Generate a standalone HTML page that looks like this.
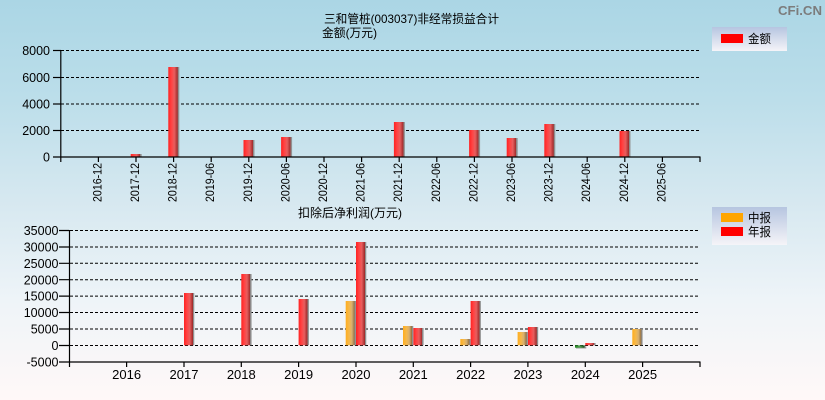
<!DOCTYPE html>
<html><head><meta charset="utf-8"><style>
html,body{margin:0;padding:0;}
body{width:825px;height:400px;overflow:hidden;}
svg{display:block;}
text{font-family:"Liberation Sans","Noto Sans CJK SC",sans-serif;fill:#000;}
</style></head><body>
<svg width="825" height="400" viewBox="0 0 825 400" xmlns="http://www.w3.org/2000/svg">
<defs>
<linearGradient id="bg" x1="0" y1="0" x2="0" y2="1">
<stop offset="0" stop-color="#abd6e5"/>
<stop offset="0.25" stop-color="#bcdeea"/>
<stop offset="0.5" stop-color="#d6e8f0"/>
<stop offset="0.75" stop-color="#eef4f8"/>
<stop offset="1" stop-color="#fff8f8"/>
</linearGradient>
<linearGradient id="lg" x1="0" y1="0" x2="0" y2="1">
<stop offset="0" stop-color="#b6c5e0"/>
<stop offset="1" stop-color="#f5f4f8"/>
</linearGradient>
<linearGradient id="red" x1="0" y1="0" x2="1" y2="0">
<stop offset="0" stop-color="#ff2222"/>
<stop offset="0.3" stop-color="#ff4444"/>
<stop offset="0.55" stop-color="#e85e5e"/>
<stop offset="0.85" stop-color="#a02a2a"/>
<stop offset="0.87" stop-color="#888"/>
<stop offset="1" stop-color="#999"/>
</linearGradient>
<linearGradient id="org" x1="0" y1="0" x2="1" y2="0">
<stop offset="0" stop-color="#ffae1e"/>
<stop offset="0.35" stop-color="#f5b84c"/>
<stop offset="0.6" stop-color="#d8b070"/>
<stop offset="0.86" stop-color="#957040"/>
<stop offset="0.88" stop-color="#888"/>
<stop offset="1" stop-color="#999"/>
</linearGradient>
<linearGradient id="grn" x1="0" y1="0" x2="1" y2="0">
<stop offset="0" stop-color="#1e8a1e"/>
<stop offset="0.45" stop-color="#50a050"/>
<stop offset="0.85" stop-color="#1f5a1f"/>
<stop offset="1" stop-color="#888"/>
</linearGradient>
</defs>
<rect x="0" y="0" width="825" height="400" fill="url(#bg)"/>

<!-- watermark -->
<text x="778" y="15" font-size="13" font-weight="bold" fill="#7c7c7c" style="fill:#7c7c7c" textLength="44" lengthAdjust="spacingAndGlyphs">CFi.CN</text>

<!-- TOP CHART -->
<text x="324" y="23" font-size="12" textLength="175" lengthAdjust="spacingAndGlyphs">三和管桩(003037)非经常损益合计</text>
<text x="322" y="37" font-size="12" textLength="55" lengthAdjust="spacingAndGlyphs">金额(万元)</text>

<g stroke="#000" stroke-width="1" stroke-dasharray="3,2" fill="none">
<line x1="61" y1="50.5" x2="700" y2="50.5"/>
<line x1="61" y1="77.5" x2="700" y2="77.5"/>
<line x1="61" y1="104" x2="700" y2="104"/>
<line x1="61" y1="130.5" x2="700" y2="130.5"/>
</g>
<g fill="url(#red)">
<rect x="130.7" y="154" width="11" height="3"/>
<rect x="168.3" y="67" width="11" height="90"/>
<rect x="243.5" y="140" width="11" height="17"/>
<rect x="281.1" y="137" width="11" height="20"/>
<rect x="393.9" y="122" width="11" height="35"/>
<rect x="469.1" y="130" width="11" height="27"/>
<rect x="506.7" y="138" width="11" height="19"/>
<rect x="544.3" y="124" width="11" height="33"/>
<rect x="619.5" y="131" width="11" height="26"/>
</g>
<g stroke="#000" stroke-width="1.2" fill="none">
<line x1="60.8" y1="50" x2="60.8" y2="162"/>
<line x1="53" y1="157" x2="700.5" y2="157"/>
<line x1="53" y1="50.5" x2="61" y2="50.5"/>
<line x1="53" y1="77.5" x2="61" y2="77.5"/>
<line x1="53" y1="104" x2="61" y2="104"/>
<line x1="53" y1="130.5" x2="61" y2="130.5"/>
<path d="M98.4 157v5M136 157v5M173.6 157v5M211.2 157v5M248.8 157v5M286.4 157v5M324 157v5M361.6 157v5M399.2 157v5M436.8 157v5M474.4 157v5M512 157v5M549.6 157v5M587.2 157v5M624.8 157v5M662.4 157v5M700 157v5"/>
</g>
<g font-size="12.5" text-anchor="end">
<text x="50" y="55">8000</text>
<text x="50" y="82">6000</text>
<text x="50" y="108.5">4000</text>
<text x="50" y="135">2000</text>
<text x="50" y="161.5">0</text>
</g>
<g font-size="12" text-anchor="end">
<text transform="translate(101.4,163) rotate(-90)" textLength="39" lengthAdjust="spacingAndGlyphs">2016-12</text>
<text transform="translate(139,163) rotate(-90)" textLength="39" lengthAdjust="spacingAndGlyphs">2017-12</text>
<text transform="translate(176.6,163) rotate(-90)" textLength="39" lengthAdjust="spacingAndGlyphs">2018-12</text>
<text transform="translate(214.2,163) rotate(-90)" textLength="39" lengthAdjust="spacingAndGlyphs">2019-06</text>
<text transform="translate(251.8,163) rotate(-90)" textLength="39" lengthAdjust="spacingAndGlyphs">2019-12</text>
<text transform="translate(289.4,163) rotate(-90)" textLength="39" lengthAdjust="spacingAndGlyphs">2020-06</text>
<text transform="translate(327,163) rotate(-90)" textLength="39" lengthAdjust="spacingAndGlyphs">2020-12</text>
<text transform="translate(364.6,163) rotate(-90)" textLength="39" lengthAdjust="spacingAndGlyphs">2021-06</text>
<text transform="translate(402.2,163) rotate(-90)" textLength="39" lengthAdjust="spacingAndGlyphs">2021-12</text>
<text transform="translate(439.8,163) rotate(-90)" textLength="39" lengthAdjust="spacingAndGlyphs">2022-06</text>
<text transform="translate(477.4,163) rotate(-90)" textLength="39" lengthAdjust="spacingAndGlyphs">2022-12</text>
<text transform="translate(515,163) rotate(-90)" textLength="39" lengthAdjust="spacingAndGlyphs">2023-06</text>
<text transform="translate(552.6,163) rotate(-90)" textLength="39" lengthAdjust="spacingAndGlyphs">2023-12</text>
<text transform="translate(590.2,163) rotate(-90)" textLength="39" lengthAdjust="spacingAndGlyphs">2024-06</text>
<text transform="translate(627.8,163) rotate(-90)" textLength="39" lengthAdjust="spacingAndGlyphs">2024-12</text>
<text transform="translate(665.4,163) rotate(-90)" textLength="39" lengthAdjust="spacingAndGlyphs">2025-06</text>
</g>

<!-- top legend -->
<rect x="712" y="27" width="75" height="24" fill="url(#lg)"/>
<rect x="721" y="34" width="22" height="9" fill="#ff0000"/>
<text x="748" y="43" font-size="12" textLength="23" lengthAdjust="spacingAndGlyphs">金额</text>

<!-- BOTTOM CHART -->
<text x="298" y="217" font-size="12" textLength="104" lengthAdjust="spacingAndGlyphs">扣除后净利润(万元)</text>

<g stroke="#000" stroke-width="1" stroke-dasharray="3,2" fill="none">
<line x1="70" y1="230.5" x2="700" y2="230.5"/>
<line x1="70" y1="247" x2="700" y2="247"/>
<line x1="70" y1="263.3" x2="700" y2="263.3"/>
<line x1="70" y1="279.7" x2="700" y2="279.7"/>
<line x1="70" y1="296.1" x2="700" y2="296.1"/>
<line x1="70" y1="312.5" x2="700" y2="312.5"/>
<line x1="70" y1="329" x2="700" y2="329"/>
<line x1="70" y1="345.5" x2="700" y2="345.5"/>
</g>
<g fill="url(#red)">
<rect x="184" y="293" width="10.3" height="52.3"/>
<rect x="241.3" y="274" width="10.3" height="71.3"/>
<rect x="298.6" y="299" width="10.3" height="46.3"/>
<rect x="356" y="242" width="10.3" height="103.3"/>
<rect x="413.3" y="328" width="10.3" height="17.3"/>
<rect x="470.6" y="301" width="10.3" height="44.3"/>
<rect x="527.9" y="327" width="10.3" height="18.3"/>
<rect x="585.3" y="343" width="10.3" height="2.3"/>
</g>
<g fill="url(#org)">
<rect x="345.7" y="301" width="10.3" height="44.3"/>
<rect x="403" y="326" width="10.3" height="19.3"/>
<rect x="460.3" y="339" width="10.3" height="6.3"/>
<rect x="517.6" y="332" width="10.3" height="13.3"/>
<rect x="632.3" y="329" width="10.3" height="16.3"/>
</g>
<rect x="576" y="346.5" width="10.3" height="2" fill="#9a9a9a"/>
<rect x="575" y="345.3" width="10.3" height="2.4" fill="url(#grn)"/>

<g stroke="#000" stroke-width="1.2" fill="none">
<line x1="69.5" y1="230" x2="69.5" y2="367"/>
<line x1="59" y1="362" x2="700.5" y2="362"/>
<path d="M59 230.5h10M59 247h10M59 263.3h10M59 279.7h10M59 296.1h10M59 312.5h10M59 329h10M59 345.5h10"/>
<path d="M126.6 362v5M184 362v5M241.3 362v5M298.6 362v5M356 362v5M413.3 362v5M470.6 362v5M527.9 362v5M585.3 362v5M642.6 362v5M700 362v5"/>
</g>
<g font-size="12.5" text-anchor="end">
<text x="58.5" y="235">35000</text>
<text x="58.5" y="251.5">30000</text>
<text x="58.5" y="268">25000</text>
<text x="58.5" y="284.3">20000</text>
<text x="58.5" y="300.7">15000</text>
<text x="58.5" y="317">10000</text>
<text x="58.5" y="333.5">5000</text>
<text x="58.5" y="350">0</text>
<text x="58.5" y="366.5">-5000</text>
</g>
<g font-size="13" text-anchor="middle">
<text x="126.6" y="379">2016</text>
<text x="184" y="379">2017</text>
<text x="241.3" y="379">2018</text>
<text x="298.6" y="379">2019</text>
<text x="356" y="379">2020</text>
<text x="413.3" y="379">2021</text>
<text x="470.6" y="379">2022</text>
<text x="527.9" y="379">2023</text>
<text x="585.3" y="379">2024</text>
<text x="642.6" y="379">2025</text>
</g>

<!-- bottom legend -->
<rect x="712" y="207" width="75" height="38" fill="url(#lg)"/>
<rect x="721" y="213" width="22" height="9" fill="#ffa500"/>
<rect x="721" y="227" width="22" height="9" fill="#ff0000"/>
<text x="748" y="222" font-size="12" textLength="23" lengthAdjust="spacingAndGlyphs">中报</text>
<text x="748" y="236" font-size="12" textLength="23" lengthAdjust="spacingAndGlyphs">年报</text>
</svg>
</body></html>
